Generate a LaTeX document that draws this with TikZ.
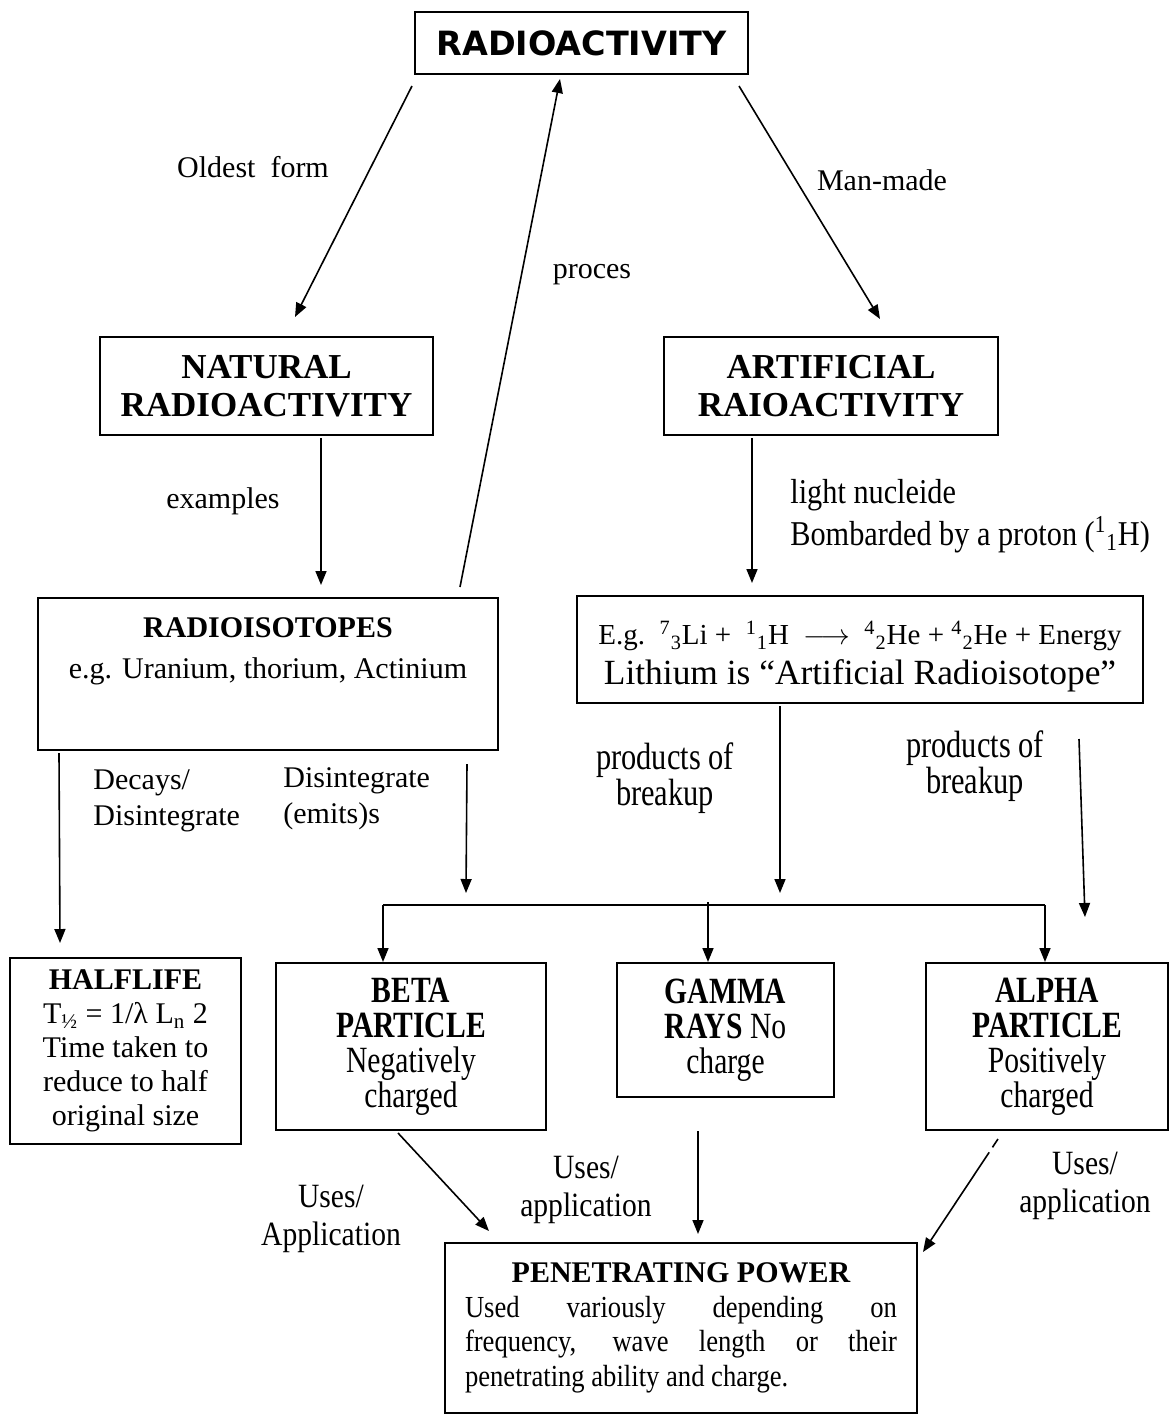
\documentclass[tikz,border=0pt]{standalone}
\usepackage{amsmath}
\usepackage{fontspec}
\setmainfont{Liberation Serif}
\newfontfamily\vsansfont{DejaVu Sans}
\newfontfamily\condfont[FakeStretch=0.8]{Liberation Serif}
\newfontfamily\semifont[FakeStretch=0.87]{Liberation Serif}
\usetikzlibrary{arrows.meta, positioning, calc}

\newcommand{\iso}[2]{\textsuperscript{#1}\textsubscript{#2}}

\begin{document}
\begin{tikzpicture}[x=0.5pt, y=-0.5pt,
    box/.style={draw, line width=1pt, align=center, inner sep=0pt},
    lbl/.style={inner sep=0pt, align=center, font=\fontsize{15}{18}\selectfont},
    link/.style={-{Triangle[length=7pt,width=5.5pt]}, line width=0.8pt}]
    \useasboundingbox (0,0) rectangle (1172,1426);

    % Draw the boxes
    \node[box, minimum width=166.5pt, minimum height=31pt, font=\vsansfont\bfseries\fontsize{16.7}{18}\selectfont] (radio) at (581.5,43) {RADIOACTIVITY};
    \node[box, minimum width=166.5pt, minimum height=49pt, font=\bfseries\fontsize{17.5}{19}\selectfont] (natural) at (266.5,386) {NATURAL\\RADIOACTIVITY};
    \node[box, minimum width=167pt, minimum height=49pt, font=\bfseries\fontsize{17.5}{19}\selectfont] (artificial) at (831,386) {ARTIFICIAL\\RAIOACTIVITY};
    \node[box, minimum width=230pt, minimum height=76pt, font=\fontsize{15}{17.25}\selectfont] (isotopes) at (268,674) {\textbf{RADIOISOTOPES}\\[3.25pt]e.g. Uranium, thorium, Actinium\\[9pt]\mbox{}};
    \node[box, minimum width=283pt, minimum height=53.5pt, font=\fontsize{14.5}{20}\selectfont] (lithium) at (860,649.5) {\rule{0pt}{19pt}E.g.\ \ \iso{7}{3}Li +\ \ \iso{1}{1}H \ $\longrightarrow$\ \ \iso{4}{2}He + \iso{4}{2}He + Energy\\{\fontsize{17.7}{20}\selectfont Lithium is ``Artificial Radioisotope''}};
    \node[box, minimum width=115.5pt, minimum height=93pt, font=\fontsize{15}{17}\selectfont] (halflife) at (125.5,1051) {\textbf{HALFLIFE}\\T\textsubscript{½} = 1/λ L\textsubscript{n} 2\\Time taken to\\reduce to half\\original size};
    \node[box, minimum width=135pt, minimum height=83.5pt, font=\condfont\fontsize{18.5}{17.5}\selectfont] (beta) at (411,1046.5) {\textbf{BETA}\\\textbf{PARTICLE}\\Negatively\\charged};
    \node[box, minimum width=108.5pt, minimum height=67pt, font=\condfont\fontsize{18.5}{17.5}\selectfont] (gamma) at (725.5,1030) {\textbf{GAMMA}\\\textbf{RAYS} No\\charge};
    \node[box, minimum width=121pt, minimum height=83.5pt, font=\condfont\fontsize{18.5}{17.5}\selectfont] (alpha) at (1047,1046.5) {\textbf{ALPHA}\\\textbf{PARTICLE}\\Positively\\charged};
    \node[box, minimum width=236pt, minimum height=85pt, inner xsep=10pt, text width=216pt, align=justify, font=\semifont\fontsize{15.3}{17.25}\selectfont] (power) at (681,1328) {\hspace*{\fill}{\rmfamily\bfseries\fontsize{15}{17.25}\selectfont PENETRATING POWER}\hspace*{\fill}\break Used variously depending on\linebreak frequency, wave length or their\linebreak penetrating ability and charge.};

    % Draw the labels
    \node[lbl] (oldest) at (253,167) {Oldest\ \ form};
    \node[lbl] (proces) at (592,275) {proces};
    \node[lbl] (manmade) at (882,180) {Man-made};
    \node[lbl] (examples) at (223,501) {examples};
    \node[lbl, anchor=west, align=left, font=\semifont\fontsize{17.4}{21}\selectfont] (nucleide) at (790,516) {light nucleide\\Bombarded by a proton (\iso{1}{1}H)};
    \node[lbl, anchor=west, align=left] (decays) at (93,801) {Decays/\\Disintegrate};
    \node[lbl, anchor=west, align=left] (emits) at (283,799) {Disintegrate\\(emits)s};
    \node[lbl, font=\condfont\fontsize{19}{16.5}\selectfont] (prodl) at (665,778) {products of\\breakup};
    \node[lbl, font=\condfont\fontsize{19}{16.5}\selectfont] (prodr) at (975,766) {products of\\breakup};
    \node[lbl, font=\semifont\fontsize{17}{19}\selectfont] (usesl) at (331,1219) {Uses/\\Application};
    \node[lbl, font=\semifont\fontsize{17}{19}\selectfont] (usesm) at (586,1190) {Uses/\\application};
    \node[lbl, font=\semifont\fontsize{17}{19}\selectfont] (usesr) at (1085,1186) {Uses/\\application};

    % Draw the links
    \draw[link] ([shift={(-2,11)}]radio.south west) -- ([shift={(28.5,-19)}]natural.north);
    \draw[link] ([shift={(192,-10)}]isotopes.north) -- ([shift={(-21.5,4)}]radio.south);
    \draw[link] ([shift={(-10,11)}]radio.south east) -- ([shift={(49,-17)}]artificial.north);
    \draw[link] ([shift={(54.5,2)}]natural.south) -- ([shift={(53,-12)}]isotopes.north);
    \draw[link] ([shift={(-79,2)}]artificial.south) -- ([shift={(-108,-12)}]lithium.north);
    \draw[link] ([shift={(22,2)}]isotopes.south west) -- ([shift={(-65.5,-14)}]halflife.north);

    % Draw the bus to the particles
    \coordinate (busl) at (383,905);
    \coordinate (busm) at (708,905);
    \coordinate (busr) at (1045,905);
    \draw[line width=0.8pt] (busl) -- (busr);
    \draw[link] ([shift={(-32,13)}]isotopes.south east) -- ([shift={(83,-12)}]busl);
    \draw[link] ([shift={(-80,2)}]lithium.south) -- ([shift={(397,-12)}]busl);
    \draw[link] ([shift={(-65,35)}]lithium.south east) -- ([shift={(38,-45)}]alpha.north);
    \draw[link] (busl) -- (busl |- beta.north);
    \draw[link] ([shift={(0,-3)}]busm) -- (busm |- gamma.north);
    \draw[link] (busr) -- (busr |- alpha.north);

    % Draw the uses
    \draw[link] ([shift={(-13,2)}]beta.south) -- ([shift={(45,-11)}]power.north west);
    \draw[link] ([shift={(-27.5,33)}]gamma.south) -- ([shift={(17,-8)}]power.north);
    \draw[link, dash pattern=on 5pt off 3pt on 200pt] ([shift={(-49,8)}]alpha.south) -- ([shift={(5,10)}]power.north east);
\end{tikzpicture}
\end{document}
